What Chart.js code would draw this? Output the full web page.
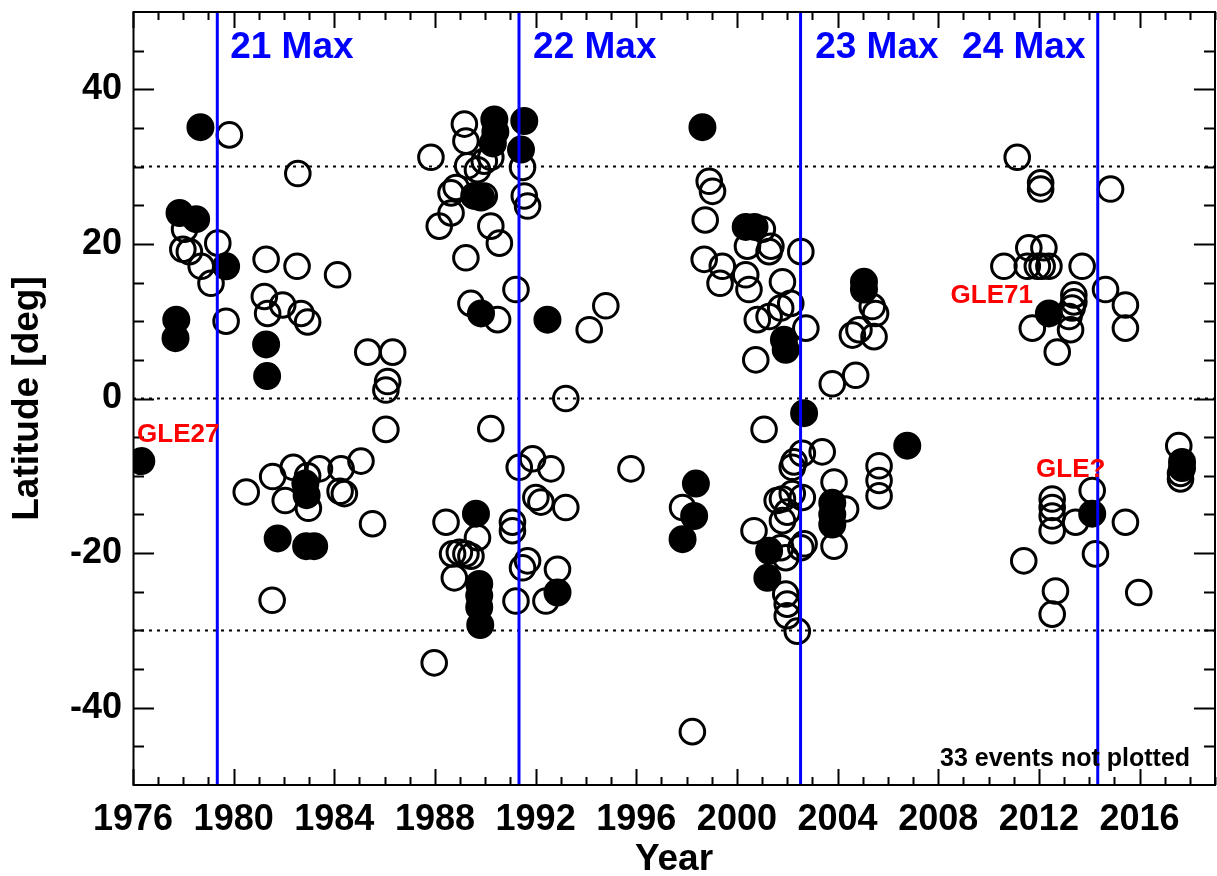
<!DOCTYPE html>
<html>
<head>
<meta charset="utf-8">
<script src="https://cdn.jsdelivr.net/npm/chart.js@4.4.1/dist/chart.umd.min.js"></script>
<style>
  html, body { margin: 0; padding: 0; background: #fff; }
  canvas { display: block; }
</style>
</head>
<body>
<canvas id="latChart" width="1217" height="876"></canvas>
<script>
// Event latitudes by year
const openYear = [
  1979.83, 1982.55, 1978.05, 1978.24, 1977.98, 1979.37, 1978.71, 1979.10, 1979.70, 1981.29,
  1982.52, 1984.13, 1981.22, 1981.35, 1981.95, 1982.68, 1982.94, 1985.33, 1986.32, 1986.12,
  1986.05, 1986.05, 1980.50, 1981.55, 1982.37, 1983.41, 1984.27, 1985.06, 1982.94, 1982.05,
  1982.97, 1984.23, 1984.40, 1985.52, 1981.53,
  1987.84, 1989.17, 1989.23, 1989.30, 1989.96, 1990.22, 1991.48, 1989.69, 1988.84, 1989.96,
  1988.64, 1991.55, 1991.68, 1988.64, 1988.17, 1990.22, 1990.56, 1989.23, 1991.22, 1989.43,
  1990.49, 1994.13, 1994.79, 1993.20, 1990.22, 1991.35, 1991.88, 1992.61, 1992.01, 1992.21,
  1993.20, 1988.44, 1989.69, 1991.08, 1991.08, 1988.70, 1988.97, 1989.23, 1989.43, 1988.77,
  1991.68, 1991.48, 1992.87, 1991.22, 1992.41, 1987.97, 1995.79,
  1997.84, 1998.23, 1998.90, 1999.03, 1998.74, 1998.70, 1999.42, 1999.33, 2001.01, 2000.42,
  2001.35, 2001.28, 2002.54, 2000.35, 2000.48, 2001.81, 2002.14, 2001.74, 2000.81, 2001.28,
  2002.74, 2000.75, 2005.51, 2005.38, 2004.59, 2005.45, 2004.85, 2003.79, 2004.72, 2001.08,
  2003.39, 2002.27, 2002.20, 2002.60, 2001.81, 2002.60, 2002.00, 2001.81, 2000.68, 2003.86,
  2004.32, 2003.86, 2002.54, 2001.94, 2001.74, 2001.94, 2002.00, 2002.00, 2002.40, 2005.65,
  2005.65, 2005.65, 2002.20, 2001.60, 2002.67,
  2011.14, 2012.07, 2012.07, 2014.85, 2010.61, 2011.60, 2012.20, 2011.54, 2011.94, 2012.13,
  2012.40, 2013.72, 2014.65, 2015.44, 2015.44, 2013.39, 2013.39, 2013.32, 2013.20, 2013.26,
  2011.74, 2012.73, 2012.53, 2012.53, 2012.53, 2012.53, 2013.46, 2014.12, 2015.44, 2014.25,
  2011.40, 2012.66, 2012.53, 2015.97, 2017.56, 2017.63, 2017.63
];
const openLat = [
  34.1, 29.1, 21.9, 19.0, 19.3, 20.1, 17.1, 14.9, 10.0, 18.0,
  17.1, 16.0, 13.2, 11.0, 12.1, 11.0, 9.9, 6.0, 6.0, 2.2,
  1.1, -4.0, -12.1, -10.1, -8.9, -9.1, -9.1, -8.1, -10.0, -13.2,
  -14.2, -12.0, -12.3, -16.2, -26.1,
  31.2, 35.5, 33.3, 30.1, 30.7, 31.2, 29.9, 29.6, 27.3, 26.2,
  26.6, 26.2, 24.9, 24.0, 22.3, 22.3, 20.1, 18.2, 14.1, 12.3,
  10.2, 8.9, 12.0, 0.0, -3.9, -8.9, -7.8, -9.1, -12.8, -13.4,
  -14.1, -16.0, -18.0, -16.0, -17.1, -20.1, -19.9, -20.1, -20.4, -23.2,
  -21.0, -21.9, -22.1, -26.2, -26.2, -34.2, -9.1,
  -14.1, -43.1, 28.1, 26.8, 23.1, 18.0, 17.1, 14.9, 21.9, 19.7,
  19.7, 19.0, 19.0, 16.0, 14.1, 15.1, 12.3, 11.7, 10.2, 10.6,
  9.1, 5.0, 11.0, 11.9, 8.2, 8.0, 8.9, 1.9, 3.0, -4.0,
  -6.9, -8.2, -8.9, -7.1, -13.0, -12.8, -14.7, -15.8, -17.1, -10.8,
  -14.3, -19.1, -19.3, -20.6, -19.3, -25.3, -26.6, -28.1, -30.1, -8.7,
  -10.6, -12.6, -12.3, -13.2, -18.8,
  31.2, 27.9, 27.1, 27.1, 17.1, 19.5, 19.5, 17.1, 17.1, 17.1,
  17.1, 17.1, 14.1, 12.1, 9.1, 13.4, 12.5, 11.7, 10.6, 8.9,
  9.1, 6.0, -13.0, -14.1, -15.2, -17.1, -16.0, -11.9, -16.0, -20.1,
  -21.0, -24.9, -27.9, -25.1, -6.1, -9.7, -10.4
];
const filledYear = [
  1978.68, 1977.85, 1978.51, 1979.70, 1977.72, 1977.69, 1981.29, 1981.33, 1976.33, 1982.85,
  1982.90, 1981.75, 1982.88, 1983.20,
  1990.36, 1990.40, 1990.30, 1991.55, 1991.42, 1989.56, 1989.83, 1989.83, 1992.47, 1989.63,
  1992.87, 1989.76, 1989.76, 1989.76, 1989.80,
  1998.63, 2000.35, 2000.70, 2001.87, 2001.94, 2005.05, 2005.05, 2002.67, 1998.37, 1998.30,
  1997.84, 2003.79, 2003.79, 2003.79, 2001.28, 2001.21, 2006.77,
  2012.40, 2014.12, 2017.69, 2017.69
];
const filledLat = [
  35.1, 24.0, 23.2, 17.1, 10.2, 7.8, 7.0, 2.9, -8.1, -11.0,
  -12.5, -18.1, -19.1, -19.1,
  36.1, 34.5, 33.0, 35.9, 32.2, 26.2, 26.0, 11.0, 10.2, -14.9,
  -25.1, -24.0, -25.5, -27.0, -29.3,
  35.1, 22.2, 22.2, 7.6, 6.3, 15.1, 14.1, -1.9, -11.0, -15.2,
  -18.2, -13.5, -15.0, -16.3, -19.7, -23.2, -6.1,
  11.0, -14.9, -8.2, -9.0
];

// Solar cycle maxima
const maxYears = [1979.35, 1991.34, 2002.53, 2014.34];
const maxLabels = ['21 Max', '22 Max', '23 Max', '24 Max'];
const maxLabelYears = [1979.86, 1991.90, 2003.11, 2008.95];
const maxLabelLat = 44.0;

// Dotted reference latitudes
const refLats = [30, 0, -30];

// Red GLE notes
const gleLabels = ['GLE27', 'GLE71', 'GLE?'];
const gleYears = [1976.16, 2008.49, 2011.89];
const gleLats = [-5.6, 12.35, -10.15];

const xTicks = [1976, 1980, 1984, 1988, 1992, 1996, 2000, 2004, 2008, 2012, 2016];
const yTicks = [-40, -20, 0, 20, 40];
const xRange = [1976, 2019];
const yRange = [-50, 50];

const FONT = "'Liberation Sans', Arial, Helvetica, sans-serif";

const toPoints = (xs, ys) => xs.map((x, i) => ({ x: x, y: ys[i] }));

const datasets = [];
maxYears.forEach(yr => {
  datasets.push({
    type: 'line',
    data: [{ x: yr, y: yRange[0] }, { x: yr, y: yRange[1] }],
    borderColor: '#0000ff',
    borderWidth: 3,
    pointRadius: 0,
    fill: false,
    order: 0
  });
});
datasets.push({
  label: 'open',
  data: toPoints(openYear, openLat),
  pointRadius: 12.3,
  pointBorderWidth: 3,
  pointBackgroundColor: 'rgba(0,0,0,0)',
  pointBorderColor: '#000',
  order: 1
});
datasets.push({
  label: 'filled',
  data: toPoints(filledYear, filledLat),
  pointRadius: 13,
  pointBorderWidth: 2,
  pointBackgroundColor: '#000',
  pointBorderColor: '#000',
  order: 2
});
refLats.forEach(lat => {
  datasets.push({
    type: 'line',
    data: [{ x: xRange[0], y: lat }, { x: xRange[1], y: lat }],
    borderColor: '#000',
    borderWidth: 2,
    borderDash: [3, 5],
    pointRadius: 0,
    fill: false,
    order: 3
  });
});

// Frame, inward ticks and text notes
const framePlugin = {
  id: 'framePlugin',
  afterDraw(chart) {
    const ctx = chart.ctx;
    const a = chart.chartArea;
    const xs = chart.scales.x;
    const ys = chart.scales.y;
    ctx.save();
    ctx.strokeStyle = '#000';
    ctx.lineWidth = 2;
    ctx.strokeRect(a.left + 0.5, a.top, a.right - a.left - 0.5, a.bottom - a.top);

    ctx.beginPath();
    for (let yr = xRange[0]; yr <= xRange[1]; yr++) {
      const px = Math.round(xs.getPixelForValue(yr)) + 0.5;
      const len = xTicks.includes(yr) ? 16 : 8;
      ctx.moveTo(px, a.bottom); ctx.lineTo(px, a.bottom - len);
      ctx.moveTo(px, a.top); ctx.lineTo(px, a.top + len);
    }
    for (let lat = yRange[0] + 5; lat < yRange[1]; lat += 5) {
      const py = Math.round(ys.getPixelForValue(lat)) + 0.5;
      const len = yTicks.includes(lat) ? 21 : 11;
      ctx.moveTo(a.left, py); ctx.lineTo(a.left + len, py);
      ctx.moveTo(a.right, py); ctx.lineTo(a.right - len, py);
    }
    ctx.stroke();

    ctx.textBaseline = 'alphabetic';
    ctx.textAlign = 'left';
    ctx.fillStyle = '#0000ff';
    ctx.font = 'bold 37px ' + FONT;
    maxLabels.forEach((t, i) => {
      ctx.fillText(t, xs.getPixelForValue(maxLabelYears[i]), ys.getPixelForValue(maxLabelLat));
    });

    ctx.fillStyle = '#ff0000';
    ctx.font = 'bold 26px ' + FONT;
    gleLabels.forEach((t, i) => {
      ctx.fillText(t, xs.getPixelForValue(gleYears[i]), ys.getPixelForValue(gleLats[i]));
    });

    ctx.fillStyle = '#000';
    ctx.font = 'bold 25px ' + FONT;
    ctx.textAlign = 'right';
    ctx.fillText('33 events not plotted', xs.getPixelForValue(2018.01), ys.getPixelForValue(-47.5));
    ctx.restore();
  }
};

// keep the plot box where the reference has it
const noPad = s => { s.paddingTop = 0; s.paddingBottom = 0; s.paddingLeft = 0; s.paddingRight = 0; };

new Chart(document.getElementById('latChart'), {
  type: 'scatter',
  data: { datasets: datasets },
  options: {
    responsive: false,
    devicePixelRatio: 1,
    animation: false,
    layout: { autoPadding: false, padding: { top: 12, right: 2, bottom: 0, left: 0 } },
    plugins: { legend: { display: false }, tooltip: { enabled: false } },
    scales: {
      x: {
        type: 'linear',
        min: xRange[0],
        max: xRange[1],
        afterBuildTicks: s => { s.ticks = xTicks.map(v => ({ value: v })); },
        afterFit: s => { s.height = 91; noPad(s); },
        grid: { display: false, drawTicks: false },
        border: { display: false },
        ticks: {
          padding: 13,
          color: '#000',
          font: { family: FONT, size: 36, weight: 'bold' },
          callback: v => String(v),
          maxRotation: 0,
          autoSkip: false
        },
        title: {
          display: true,
          text: 'Year',
          color: '#000',
          font: { family: FONT, size: 37, weight: 'bold' },
          padding: { top: 0, bottom: -6 }
        }
      },
      y: {
        type: 'linear',
        min: yRange[0],
        max: yRange[1],
        afterBuildTicks: s => { s.ticks = yTicks.map(v => ({ value: v })); },
        afterFit: s => { s.width = 133; noPad(s); },
        grid: { display: false, drawTicks: false },
        border: { display: false },
        ticks: {
          padding: 11,
          color: '#000',
          font: { family: FONT, size: 36, weight: 'bold' },
          callback: v => String(v)
        },
        title: {
          display: true,
          text: 'Latitude [deg]',
          color: '#000',
          font: { family: FONT, size: 37, weight: 'bold' },
          padding: { top: 6, bottom: 0 }
        }
      }
    }
  },
  plugins: [framePlugin]
});
</script>
</body>
</html>
